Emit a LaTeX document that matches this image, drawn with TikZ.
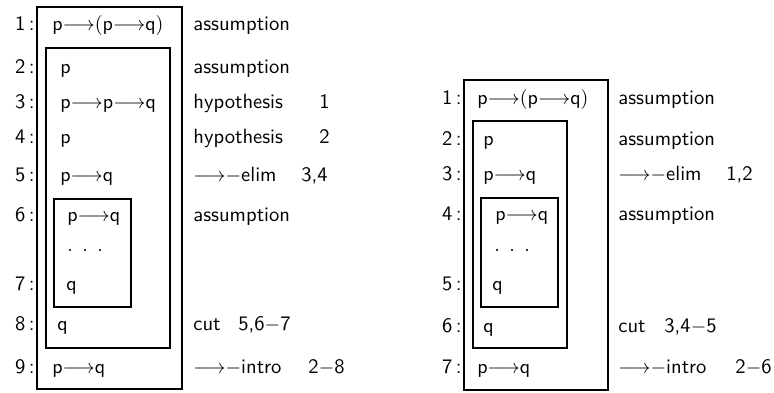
\documentclass[tikz,border=0pt]{standalone}
\usepackage{amsmath,amssymb}
\usepackage{tikz}
\newcommand{\limp}{\mathord{\longrightarrow}}
\newcommand{\threedots}{$\cdot$\kern4.7pt$\cdot$\kern4.7pt$\cdot$}

\begin{document}
\begin{tikzpicture}[x=.5pt,y=-.5pt,font=\sffamily\fontsize{10.3}{12}\selectfont,
  num/.style={anchor=base east,inner sep=0pt},
  fml/.style={anchor=base west,inner sep=0pt},
  rule/.style={anchor=base west,inner sep=0pt},
  ref/.style={anchor=base east,inner sep=0pt},
  box/.style={draw,line width=.6pt}]
\useasboundingbox (0,0) rectangle (774,392);
% left derivation
\draw[box] (37,7) rectangle (182,389);
\draw[box] (46,48) rectangle (170,348);
\draw[box] (54,199) rectangle (131,307);
\foreach \n/\y in {1/30.5,2/73,3/108,4/143,5/181,6/221,7/290,8/330,9/373}{\node[num] (ln\n) at (35,\y) {\n\,:};}
\node[fml] (lf1) at (52,30.5) {$\mathsf{p}\limp(\mathsf{p}\limp\mathsf{q})$};
\node[fml] (lf2) at (60,73) {$\mathsf{p}$};
\node[fml] (lf3) at (60,108) {$\mathsf{p}\limp\mathsf{p}\limp\mathsf{q}$};
\node[fml] (lf4) at (60,143) {$\mathsf{p}$};
\node[fml] (lf5) at (60,181) {$\mathsf{p}\limp\mathsf{q}$};
\node[fml] (lf6) at (67,221) {$\mathsf{p}\limp\mathsf{q}$};
\node[fml] (ldots) at (67,255) {\threedots};
\node[fml] (lf7) at (66,290) {$\mathsf{q}$};
\node[fml] (lf8) at (57,330) {$\mathsf{q}$};
\node[fml] (lf9) at (52,373) {$\mathsf{p}\limp\mathsf{q}$};
\node[rule] (lr1) at (193,30.5) {assumption};
\node[rule] (lr2) at (193,73) {assumption};
\node[rule] (lr3) at (193,108) {hypothesis};
\node[rule] (lr4) at (193,143) {hypothesis};
\node[rule] (lr5) at (193,181) {$\limp{-}$elim};
\node[rule] (lr6) at (193,221) {assumption};
\node[rule] (lr8) at (193,330) {cut};
\node[rule] (lr9) at (193,373) {$\limp{-}$intro};
\node[ref] (lc3) at (330,108) {1};
\node[ref] (lc4) at (330,143) {2};
\node[ref] (lc5) at (328,181) {3,4};
\node[ref] (lc8) at (291,330) {5,6$-$7};
\node[ref] (lc9) at (345,373) {2$-$8};
% right derivation
\draw[box] (464,80) rectangle (608,390);
\draw[box] (473,121) rectangle (567,348);
\draw[box] (481,198) rectangle (558,307);
\foreach \n/\y in {1/104,2/145,3/180,4/220,5/290,6/332,7/373}{\node[num] (rn\n) at (462,\y) {\n\,:};}
\node[fml] (rf1) at (477,104) {$\mathsf{p}\limp(\mathsf{p}\limp\mathsf{q})$};
\node[fml] (rf2) at (483,145) {$\mathsf{p}$};
\node[fml] (rf3) at (483,180) {$\mathsf{p}\limp\mathsf{q}$};
\node[fml] (rf4) at (495,220) {$\mathsf{p}\limp\mathsf{q}$};
\node[fml] (rdots) at (494,255) {\threedots};
\node[fml] (rf5) at (492,290) {$\mathsf{q}$};
\node[fml] (rf6) at (483,332) {$\mathsf{q}$};
\node[fml] (rf7) at (477,373) {$\mathsf{p}\limp\mathsf{q}$};
\node[rule] (rr1) at (618,104) {assumption};
\node[rule] (rr2) at (618,145) {assumption};
\node[rule] (rr3) at (618,180) {$\limp{-}$elim};
\node[rule] (rr4) at (618,220) {assumption};
\node[rule] (rr6) at (618,332) {cut};
\node[rule] (rr7) at (618,373) {$\limp{-}$intro};
\node[ref] (rc3) at (753,180) {1,2};
\node[ref] (rc6) at (717,332) {3,4$-$5};
\node[ref] (rc7) at (772,373) {2$-$6};
\end{tikzpicture}
\end{document}
